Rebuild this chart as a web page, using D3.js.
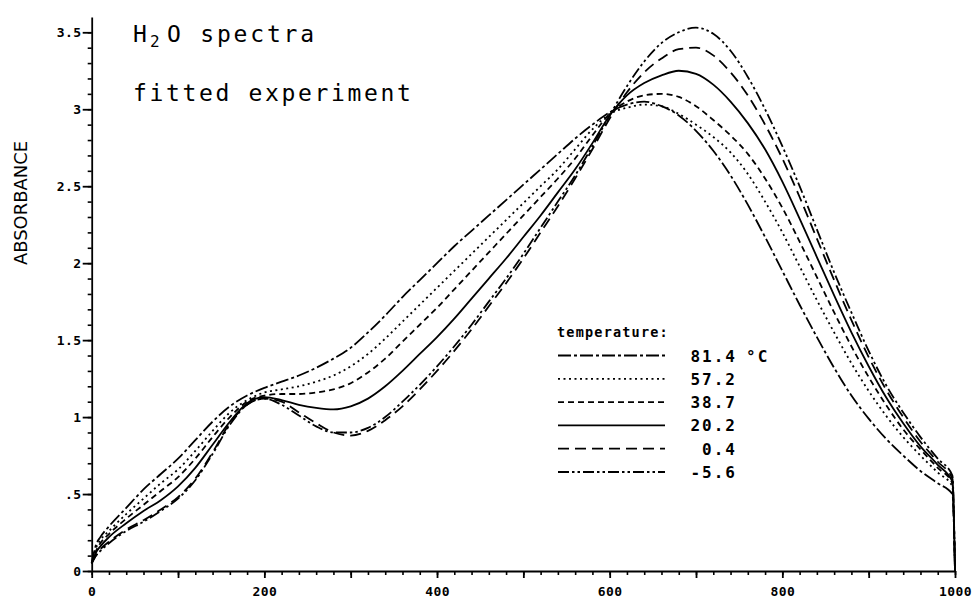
<!DOCTYPE html>
<html>
<head>
<meta charset="utf-8">
<script src="https://cdn.jsdelivr.net/npm/d3@7"></script>
<style>
  html, body { margin: 0; padding: 0; background: #fff; }
  svg { display: block; }
</style>
</head>
<body>
<script>
// Channel positions shared by every spectrum
const channel = [0, 5, 10, 20, 40, 60, 80, 100, 120, 140, 160, 180, 200, 220, 240, 260, 280, 300,
  320, 340, 360, 380, 400, 420, 440, 460, 480, 500, 520, 540, 560, 580, 600, 620, 640, 660, 680,
  700, 720, 740, 760, 780, 800, 820, 840, 860, 880, 900, 920, 940, 960, 980, 997, 1000];

// Absorbance per temperature
const t814 = [0.05, 0.17, 0.22, 0.29, 0.41, 0.53, 0.63, 0.73, 0.85, 0.97, 1.07, 1.14, 1.19, 1.23, 1.27, 1.32, 1.38, 1.45,
  1.55, 1.66, 1.78, 1.89, 2.00, 2.11, 2.21, 2.31, 2.41, 2.51, 2.61, 2.71, 2.81, 2.90, 2.98, 3.03, 3.05, 3.02, 2.96,
  2.86, 2.73, 2.57, 2.38, 2.17, 1.95, 1.73, 1.52, 1.32, 1.14, 0.99, 0.86, 0.75, 0.65, 0.57, 0.50, 0];
const t572 = [0.05, 0.15, 0.20, 0.26, 0.37, 0.47, 0.57, 0.66, 0.78, 0.91, 1.03, 1.11, 1.16, 1.18, 1.20, 1.23, 1.27, 1.33,
  1.41, 1.51, 1.62, 1.73, 1.84, 1.95, 2.06, 2.17, 2.28, 2.39, 2.50, 2.61, 2.74, 2.87, 2.97, 3.01, 3.03, 3.02, 2.97,
  2.90, 2.82, 2.72, 2.58, 2.40, 2.20, 1.98, 1.76, 1.55, 1.35, 1.17, 1.01, 0.87, 0.75, 0.64, 0.55, 0];
const t387 = [0.05, 0.13, 0.18, 0.24, 0.34, 0.43, 0.52, 0.61, 0.73, 0.87, 1.00, 1.10, 1.14, 1.15, 1.15, 1.16, 1.18, 1.22,
  1.29, 1.38, 1.49, 1.60, 1.71, 1.83, 1.95, 2.07, 2.19, 2.31, 2.43, 2.55, 2.68, 2.83, 2.97, 3.05, 3.09, 3.10, 3.08,
  3.02, 2.93, 2.83, 2.71, 2.55, 2.36, 2.14, 1.91, 1.68, 1.46, 1.26, 1.08, 0.92, 0.79, 0.67, 0.57, 0];
const t202 = [0.05, 0.12, 0.16, 0.22, 0.31, 0.39, 0.46, 0.55, 0.67, 0.82, 0.97, 1.09, 1.13, 1.11, 1.08, 1.06, 1.05, 1.07,
  1.12, 1.20, 1.30, 1.41, 1.52, 1.64, 1.77, 1.90, 2.03, 2.17, 2.31, 2.46, 2.61, 2.78, 2.96, 3.09, 3.17, 3.22, 3.25,
  3.23, 3.16, 3.05, 2.91, 2.74, 2.53, 2.29, 2.04, 1.79, 1.55, 1.33, 1.13, 0.96, 0.81, 0.69, 0.58, 0];
const t004 = [0.05, 0.10, 0.14, 0.19, 0.27, 0.33, 0.40, 0.48, 0.60, 0.77, 0.96, 1.08, 1.12, 1.10, 1.03, 0.96, 0.90, 0.88,
  0.91, 0.98, 1.07, 1.18, 1.30, 1.43, 1.57, 1.72, 1.87, 2.03, 2.20, 2.37, 2.55, 2.74, 2.94, 3.11, 3.24, 3.33, 3.39,
  3.40, 3.35, 3.24, 3.09, 2.90, 2.68, 2.43, 2.16, 1.89, 1.63, 1.39, 1.18, 1.00, 0.84, 0.71, 0.60, 0];
const tm56 = [0.05, 0.10, 0.13, 0.18, 0.26, 0.32, 0.39, 0.47, 0.59, 0.76, 0.95, 1.08, 1.12, 1.08, 1.01, 0.94, 0.90, 0.90,
  0.93, 1.00, 1.10, 1.21, 1.33, 1.46, 1.60, 1.75, 1.90, 2.06, 2.23, 2.40, 2.57, 2.76, 2.96, 3.15, 3.31, 3.43, 3.50,
  3.53, 3.49, 3.38, 3.21, 3.00, 2.76, 2.50, 2.22, 1.94, 1.68, 1.43, 1.21, 1.03, 0.87, 0.73, 0.62, 0];

const temperatureLabels = ["81.4", "57.2", "38.7", "20.2", "0.4", "-5.6"];
const xTickLabels = [0, 200, 400, 600, 800, 1000];
const yTickLabels = ["0", ".5", "1", "1.5", "2", "2.5", "3", "3.5"];

const seriesValues = [t814, t572, t387, t202, t004, tm56];
const dashes = ["13,3,3,3", "2,3.5", "6,4", null, "11,6", "11,3,2.5,3,2.5,3"];

const W = 976, H = 599;
const svg = d3.select("body").append("svg").attr("width", W).attr("height", H);

const x = d3.scaleLinear().domain([0, 1000]).range([91.7, 955]);
const y = d3.scaleLinear().domain([0, 3.6]).range([571, 16.9]);

const mono = "'DejaVu Sans Mono', monospace";

// X axis: minor ticks every 20, longer ticks every 100
svg.append("g").attr("transform", `translate(0,${y(0)})`)
  .call(d3.axisBottom(x).tickValues(d3.range(0, 1001, 20)).tickSize(4).tickSizeOuter(0).tickFormat(""))
  .call(g => g.select(".domain").attr("stroke-width", 1.8))
  .call(g => g.selectAll(".tick line").attr("stroke-width", 1.6));
svg.append("g").attr("transform", `translate(0,${y(0)})`)
  .call(d3.axisBottom(x).tickValues(d3.range(0, 1001, 100)).tickSize(7).tickSizeOuter(0)
    .tickFormat(d => xTickLabels.includes(d) ? String(d) : ""))
  .call(g => g.select(".domain").remove())
  .call(g => g.selectAll(".tick line").attr("stroke-width", 1.8))
  .call(g => g.selectAll(".tick text")
    .attr("y", 25).attr("dy", 0)
    .attr("font-family", mono).attr("font-weight", "bold").attr("font-size", 13)
    .attr("letter-spacing", 0.4).attr("fill", "#000"));

// Y axis: minor ticks every 0.1, labelled ticks every 0.5
svg.append("g").attr("transform", `translate(${x(0)},0)`)
  .call(d3.axisLeft(y).tickValues(d3.range(0, 36).map(i => i / 10)).tickSize(4).tickSizeOuter(0).tickFormat(""))
  .call(g => g.select(".domain").attr("stroke-width", 1.8))
  .call(g => g.selectAll(".tick line").attr("stroke-width", 1.6));
svg.append("g").attr("transform", `translate(${x(0)},0)`)
  .call(d3.axisLeft(y).tickValues(d3.range(0, 8).map(i => i / 2)).tickSize(9).tickPadding(1).tickSizeOuter(0)
    .tickFormat((d, i) => yTickLabels[i]))
  .call(g => g.select(".domain").remove())
  .call(g => g.selectAll(".tick line").attr("stroke-width", 1.8))
  .call(g => g.selectAll(".tick text")
    .attr("dy", "0.36em")
    .attr("font-family", mono).attr("font-weight", "bold").attr("font-size", 13)
    .attr("letter-spacing", 0.5).attr("fill", "#000"));

// Y axis title
svg.append("text")
  .attr("transform", "translate(27,203) rotate(-90)")
  .attr("text-anchor", "middle")
  .attr("font-family", "'DejaVu Sans', sans-serif")
  .attr("font-size", 17.5)
  .attr("textLength", 124).attr("lengthAdjust", "spacingAndGlyphs")
  .text("ABSORBANCE");

// Spectra
const line = d3.line()
  .x((d, i) => x(channel[i]))
  .y(d => y(d))
  .curve(d3.curveMonotoneX);

svg.append("g").selectAll("path")
  .data(seriesValues)
  .join("path")
  .attr("d", d => line(d))
  .attr("fill", "none")
  .attr("stroke", "#000")
  .attr("stroke-width", 1.8)
  .attr("stroke-dasharray", (d, i) => dashes[i]);

// Titles
const title = svg.append("text")
  .attr("y", 42)
  .attr("font-family", mono).attr("font-size", 23).attr("fill", "#000");
title.append("tspan").attr("x", 133).text("H");
title.append("tspan").attr("x", 150).attr("dy", 5).attr("font-size", 16).text("2");
title.append("tspan").attr("x", 167).attr("dy", -5).attr("letter-spacing", 2.8).text("O spectra");

svg.append("text")
  .attr("x", 133).attr("y", 101)
  .attr("font-family", mono).attr("font-size", 23).attr("letter-spacing", 2.65).attr("fill", "#000")
  .text("fitted experiment");

// Legend
const legend = svg.append("g");
legend.append("text")
  .attr("x", 557).attr("y", 337)
  .attr("font-family", mono).attr("font-weight", "bold").attr("font-size", 13.5)
  .attr("letter-spacing", 1.2)
  .text("temperature:");

const rowY = d3.scaleLinear().domain([0, 5]).range([355.5, 472]);
temperatureLabels.forEach((lab, i) => {
  legend.append("line")
    .attr("x1", 558).attr("x2", 665)
    .attr("y1", rowY(i)).attr("y2", rowY(i))
    .attr("stroke", "#000").attr("stroke-width", 1.8)
    .attr("stroke-dasharray", dashes[i]);
  legend.append("text")
    .attr("x", 737).attr("y", rowY(i) + 6)
    .attr("text-anchor", "end")
    .attr("font-family", mono).attr("font-weight", "bold").attr("font-size", 16)
    .attr("letter-spacing", 2)
    .text(lab);
});
legend.append("text")
  .attr("x", 746).attr("y", rowY(0) + 6)
  .attr("font-family", mono).attr("font-weight", "bold").attr("font-size", 16)
  .attr("letter-spacing", 2)
  .text("°C");
</script>
</body>
</html>
